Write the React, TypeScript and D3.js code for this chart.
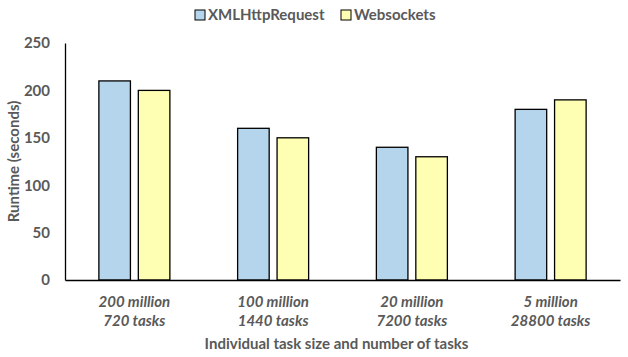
import React, { useEffect, useRef } from "react";
import * as d3 from "d3";

const categories = ["200 million|720 tasks", "100 million|1440 tasks", "20 million|7200 tasks", "5 million|28800 tasks"];
const seriesNames = ["XMLHttpRequest", "Websockets"];
const xhrValues = [210, 160, 140, 180];
const wsValues = [200, 150, 130, 190];
const yTicks = [0, 50, 100, 150, 200, 250];
const colors = ["#B4D5EC", "#FFFFB3"];

const App = () => {
  const svgRef = useRef<SVGSVGElement>(null);

  useEffect(() => {
    const width = 628;
    const height = 357;
    const margin = { top: 43, right: 8, bottom: 77, left: 65 };
    const innerWidth = width - margin.left - margin.right;
    const innerHeight = height - margin.top - margin.bottom;
    const textColor = "#595959";
    const font = "Lato, 'Open Sans', sans-serif";
    const fontSize = "15px";

    const svg = d3.select(svgRef.current);
    svg.selectAll("*").remove();
    svg.attr("width", width).attr("height", height).style("font-family", font);

    const chart = svg.append("g").attr("transform", `translate(${margin.left},${margin.top})`);

    const x = d3.scaleBand().domain(categories).range([0, innerWidth]).paddingInner(0).paddingOuter(0);
    const groupWidth = 71;
    const x1 = d3
      .scaleBand()
      .domain(seriesNames)
      .range([(x.bandwidth() - groupWidth) / 2, (x.bandwidth() + groupWidth) / 2])
      .paddingInner(0.2);
    const y = d3.scaleLinear().domain([0, 250]).range([innerHeight, 0]);

    const rows = categories.map((c, i) => ({ cat: c, values: [xhrValues[i], wsValues[i]] }));

    // bars
    const groups = chart
      .selectAll("g.group")
      .data(rows)
      .enter()
      .append("g")
      .attr("class", "group")
      .attr("transform", (d) => `translate(${x(d.cat)},0)`);

    groups
      .selectAll("rect")
      .data((d) => d.values.map((v, i) => ({ name: seriesNames[i], v, i })))
      .enter()
      .append("rect")
      .attr("x", (d) => x1(d.name)!)
      .attr("y", (d) => y(d.v))
      .attr("width", x1.bandwidth())
      .attr("height", (d) => innerHeight - y(d.v))
      .attr("fill", (d) => colors[d.i])
      .attr("stroke", "#000")
      .attr("stroke-width", 1.3);

    // y axis
    const yAxis = chart.append("g").call(d3.axisLeft(y).tickValues(yTicks).tickSize(0).tickPadding(15));
    yAxis.select(".domain").attr("stroke", "#000").attr("stroke-width", 1.3);
    yAxis
      .selectAll("text")
      .attr("fill", textColor)
      .style("font-size", fontSize)
      .style("font-weight", "bold")
      .style("font-family", font);

    // x axis line
    const xAxis = chart
      .append("g")
      .attr("transform", `translate(0,${innerHeight})`)
      .call(d3.axisBottom(x).tickSize(0).tickFormat(() => ""));
    xAxis.select(".domain").attr("stroke", "#000").attr("stroke-width", 1.3);

    // category labels (two lines)
    const catLabels = chart
      .selectAll("text.cat")
      .data(categories)
      .enter()
      .append("text")
      .attr("class", "cat")
      .attr("text-anchor", "middle")
      .attr("fill", textColor)
      .style("font-size", fontSize)
      .style("font-weight", "bold")
      .style("font-style", "italic");
    catLabels.each(function (d) {
      const parts = d.split("|");
      const t = d3.select(this);
      parts.forEach((p, i) => {
        t.append("tspan")
          .attr("x", x(d)! + x.bandwidth() / 2)
          .attr("y", innerHeight + 27 + i * 19)
          .text(p);
      });
    });

    // axis titles
    svg
      .append("text")
      .attr("x", margin.left + innerWidth / 2 - 6)
      .attr("y", 349)
      .attr("text-anchor", "middle")
      .attr("fill", textColor)
      .style("font-size", fontSize)
      .style("font-weight", "bold")
      .text("Individual task size and number of tasks");

    svg
      .append("text")
      .attr("transform", `translate(19,${margin.top + innerHeight / 2}) rotate(-90)`)
      .attr("text-anchor", "middle")
      .attr("fill", textColor)
      .style("font-size", fontSize)
      .style("font-weight", "bold")
      .text("Runtime (seconds)");

    // legend
    const legendX = [195, 341];
    const legend = svg
      .selectAll("g.legend")
      .data(seriesNames)
      .enter()
      .append("g")
      .attr("class", "legend")
      .attr("transform", (_, i) => `translate(${legendX[i]},10)`);
    legend
      .append("rect")
      .attr("width", 10)
      .attr("height", 10)
      .attr("fill", (_, i) => colors[i])
      .attr("stroke", "#000")
      .attr("stroke-width", 1);
    legend
      .append("text")
      .attr("x", 13)
      .attr("y", 10)
      .attr("fill", textColor)
      .style("font-size", fontSize)
      .style("font-weight", "bold")
      .text((d) => d);
  }, []);

  return <svg ref={svgRef} style={{ position: "absolute", left: 0, top: 0 }}></svg>;
};

export default App;
